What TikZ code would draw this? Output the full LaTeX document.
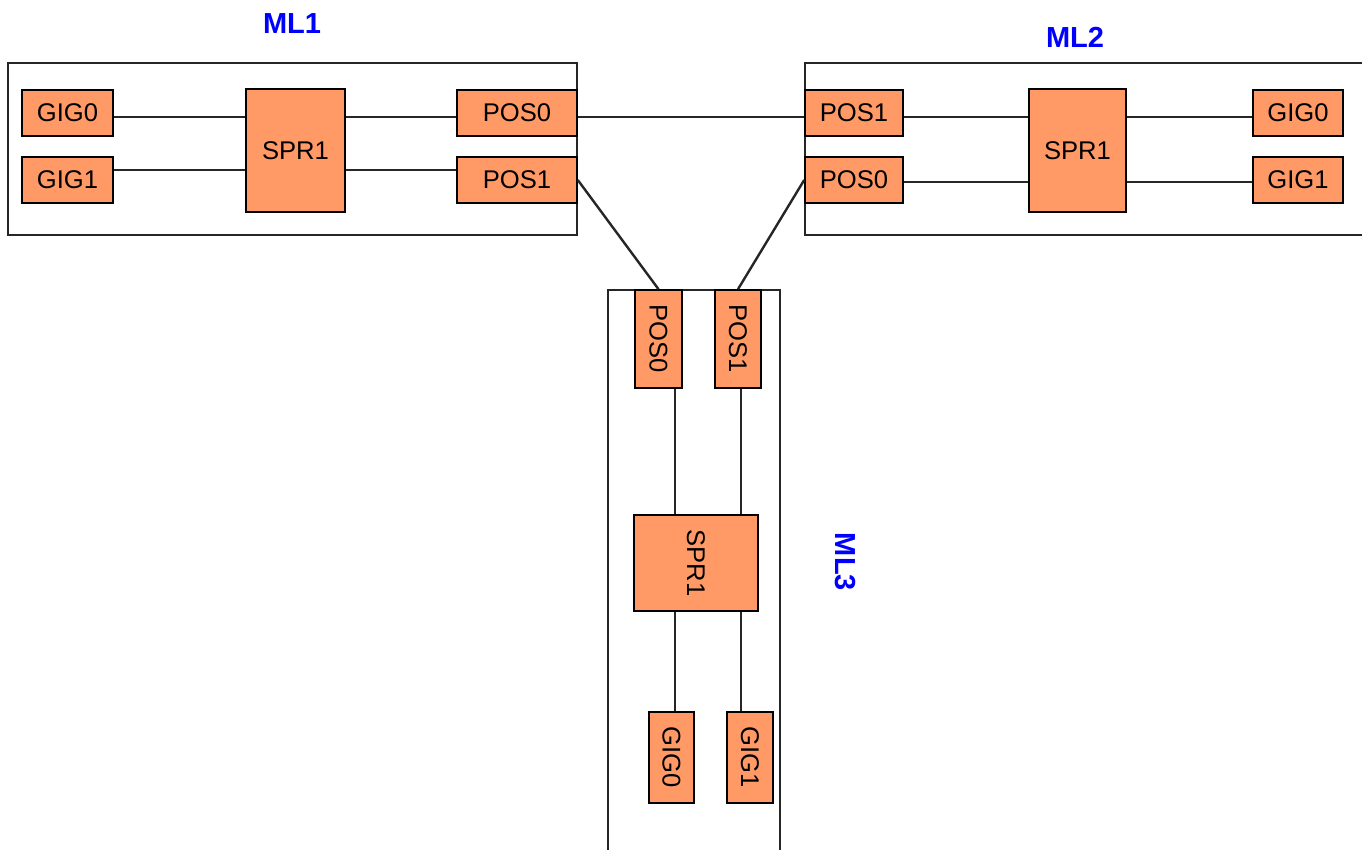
\documentclass[tikz,border=0pt]{standalone}
\usepackage{fontspec}
\setmainfont{Liberation Sans}
\usepackage{graphicx}
\usepackage{tikz}
\usetikzlibrary{positioning, calc}
\definecolor{cardfill}{RGB}{255,153,102}
\definecolor{tagblue}{RGB}{0,0,255}
\tikzstyle{card} = [rectangle, inner sep = 0pt, minimum width = 45.5pt, minimum height = 23pt, text centered, draw = black, line width = 0.8pt, fill = cardfill, font = \fontsize{12.8}{14}\selectfont]
\tikzstyle{chassis} = [rectangle, inner sep = 0pt, draw = black!85, line width = 1pt, fill = white]
\tikzstyle{tag} = [text = tagblue, font = \bfseries\fontsize{14.5}{16}\selectfont]
\tikzstyle{link} = [line width = 1.2pt, black!85]

\begin{document}
\begin{tikzpicture}[x = 0.5pt, y = -0.5pt]
\useasboundingbox (0,0) rectangle (1362,850);
% chassis
\node (ml1) [chassis, minimum width = 284.5pt, minimum height = 86pt] at (292.5,149) {};
\node (ml2) [chassis, minimum width = 285pt, minimum height = 86pt] at (1090,149) {};
\node (ml3) [chassis, minimum width = 86pt, minimum height = 290pt] at (694,580) {};
% ML1
\node (gigA0) [card] at (67.5,113) {GIG0};
\node (gigA1) [card] at (67.5,180) {GIG1};
\node (sprA) [card, minimum width = 49.5pt, minimum height = 61.5pt] at (295.5,150.5) {SPR1};
\node (posA0) [card, minimum width = 60pt] at (517,113) {POS0};
\node (posA1) [card, minimum width = 60pt] at (517,180) {POS1};
\node (tagA) [tag] at (292,24) {ML1};
% ML2
\node (posB1) [card, minimum width = 49pt] at (854,113) {POS1};
\node (posB0) [card, minimum width = 49pt] at (854,180) {POS0};
\node (sprB) [card, minimum width = 48.5pt, minimum height = 61.5pt] at (1077.5,150.5) {SPR1};
\node (gigB0) [card, minimum width = 45pt] at (1298,113) {GIG0};
\node (gigB1) [card, minimum width = 45pt] at (1298,180) {GIG1};
\node (tagB) [tag] at (1075,37) {ML2};
% ML3
\node (posC0) [card, minimum width = 23.5pt, minimum height = 49pt] at (658.5,339) {\rotatebox{-90}{POS0}};
\node (posC1) [card, minimum width = 23pt, minimum height = 49pt] at (738,339) {\rotatebox{-90}{POS1}};
\node (sprC) [card, minimum width = 62pt, minimum height = 48pt] at (696,563) {\rotatebox{-90}{SPR1}};
\node (gigC0) [card, minimum width = 22.5pt, minimum height = 45.5pt] at (671.5,757.5) {\rotatebox{-90}{GIG0}};
\node (gigC1) [card, minimum width = 23pt, minimum height = 45.5pt] at (750,757.5) {\rotatebox{-90}{GIG1}};
\node (tagC) [tag, rotate = -90] at (845,562) {ML3};
% links inside ML1
\draw [link] ([yshift=-2pt]gigA0.east) -- ([yshift=-2pt]gigA0.east -| sprA.west);
\draw [link] ([yshift=5pt]gigA1.east) -- ([yshift=5pt]gigA1.east -| sprA.west);
\draw [link] ([yshift=-2pt]posA0.west) -- ([yshift=-2pt]posA0.west -| sprA.east);
\draw [link] ([yshift=5pt]posA1.west) -- ([yshift=5pt]posA1.west -| sprA.east);
% links inside ML2
\draw [link] ([yshift=-2pt]posB1.east) -- ([yshift=-2pt]posB1.east -| sprB.west);
\draw [link] ([yshift=-1pt]posB0.east) -- ([yshift=-1pt]posB0.east -| sprB.west);
\draw [link] ([yshift=-2pt]gigB0.west) -- ([yshift=-2pt]gigB0.west -| sprB.east);
\draw [link] ([yshift=-1pt]gigB1.west) -- ([yshift=-1pt]gigB1.west -| sprB.east);
% links inside ML3
\draw [link] ([xshift=8.25pt]posC0.south) -- ([xshift=8.25pt]posC0.south |- sprC.north);
\draw [link] ([xshift=1.5pt]posC1.south) -- ([xshift=1.5pt]posC1.south |- sprC.north);
\draw [link] ([xshift=1.75pt]gigC0.north) -- ([xshift=1.75pt]gigC0.north |- sprC.south);
\draw [link] ([xshift=-4.5pt]gigC1.north) -- ([xshift=-4.5pt]gigC1.north |- sprC.south);
% links between the cards
\draw [link] ([yshift=-2pt]posA0.east) -- ([yshift=-2pt]posA0.east -| posB1.west);
\draw [link] (posA1.east) -- (posC0.north);
\draw [link] (posB0.west) -- (posC1.north);
\end{tikzpicture}
\end{document}
